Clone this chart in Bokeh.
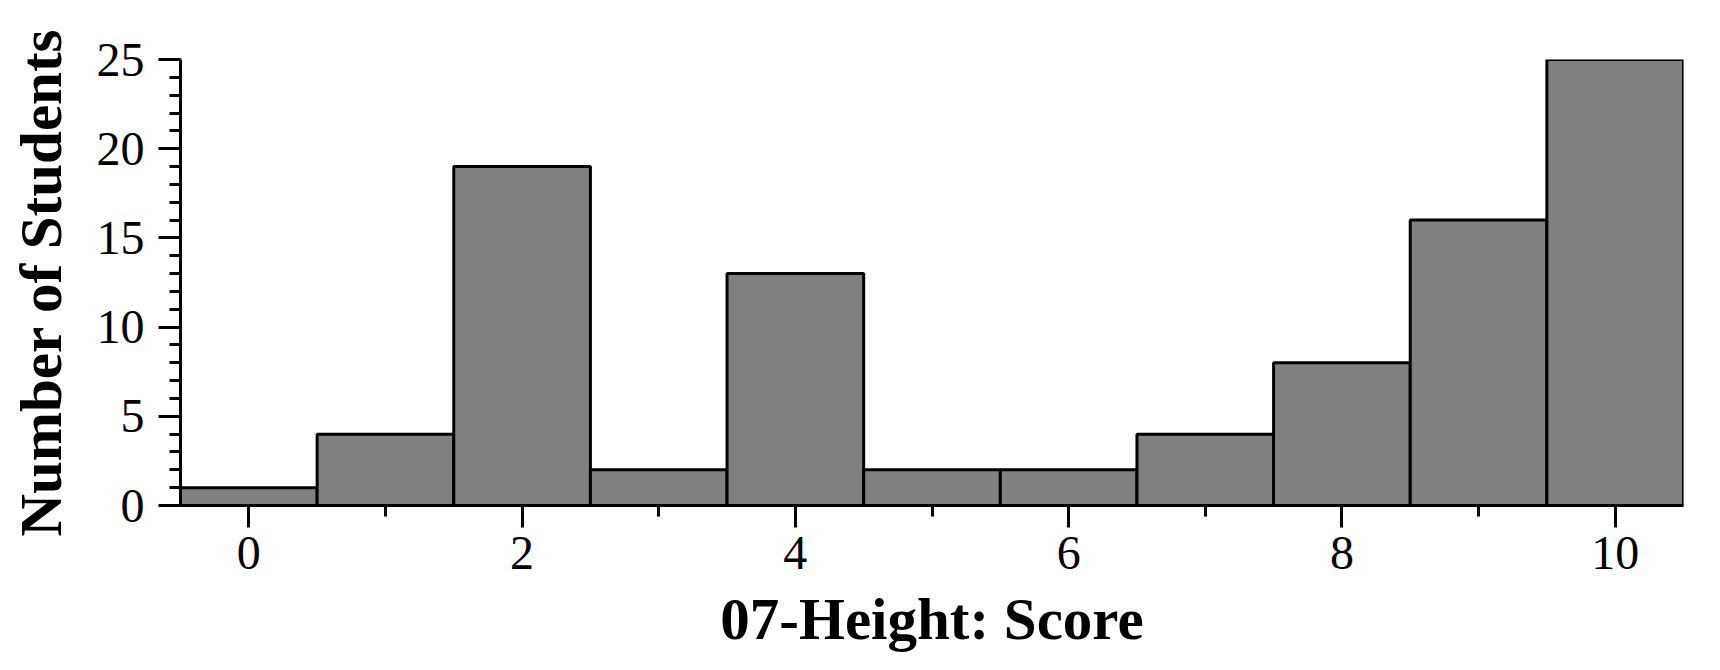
from bokeh.plotting import figure
from bokeh.models import Range1d, FixedTicker, ColumnDataSource
from bokeh.embed import file_html
from bokeh.resources import INLINE

scores = [0, 1, 2, 3, 4, 5, 6, 7, 8, 9, 10]
counts = [1, 4, 19, 2, 13, 2, 2, 4, 8, 16, 25]
x_ticks = [0, 2, 4, 6, 8, 10]
x_minor = [1, 3, 5, 7, 9]
y_ticks = [0, 5, 10, 15, 20, 25]
y_minor = [i for i in range(0, 26)]
x_title = "07-Height: Score"
y_title = "Number of Students"

src = ColumnDataSource(dict(left=[s - 0.5 for s in scores], right=[s + 0.5 for s in scores],
                            top=counts, bottom=[0] * len(counts)))

p = figure(width=1704, height=654, output_backend="svg", toolbar_location=None,
           x_range=Range1d(-0.5, 10.5), y_range=Range1d(0, 25),
           min_border_left=180, min_border_right=21, min_border_top=59, min_border_bottom=146)
p.outline_line_color = None
p.grid.grid_line_color = None
p.background_fill_color = "white"
p.border_fill_color = "white"

p.quad(left="left", right="right", top="top", bottom="bottom", source=src,
       fill_color="#808080", line_color="black", line_width=3)

font = "Liberation Serif"
for ax in (p.xaxis[0], p.yaxis[0]):
    ax.axis_line_color = "black"
    ax.axis_line_width = 3
    ax.major_tick_line_color = "black"
    ax.major_tick_line_width = 3
    ax.minor_tick_line_color = "black"
    ax.minor_tick_line_width = 3
    ax.major_tick_in = 0
    ax.minor_tick_in = 0
    ax.major_tick_out = 22
    ax.minor_tick_out = 11
    ax.major_label_text_font = font
    ax.major_label_text_font_size = "48px"
    ax.major_label_text_color = "black"
    ax.axis_label_text_font = font
    ax.axis_label_text_font_style = "bold"
    ax.axis_label_text_color = "black"

p.xaxis[0].ticker = FixedTicker(ticks=x_ticks, minor_ticks=x_minor)
p.yaxis[0].ticker = FixedTicker(ticks=y_ticks, minor_ticks=y_minor)
p.xaxis[0].axis_label = x_title
p.yaxis[0].axis_label = y_title
p.xaxis[0].axis_label_text_font_size = "59px"
p.yaxis[0].axis_label_text_font_size = "59px"
p.xaxis[0].major_label_standoff = 9
p.yaxis[0].major_label_standoff = 14
p.xaxis[0].axis_label_standoff = 14
p.yaxis[0].axis_label_standoff = 20

open("out.html", "w").write(file_html(p, INLINE))
